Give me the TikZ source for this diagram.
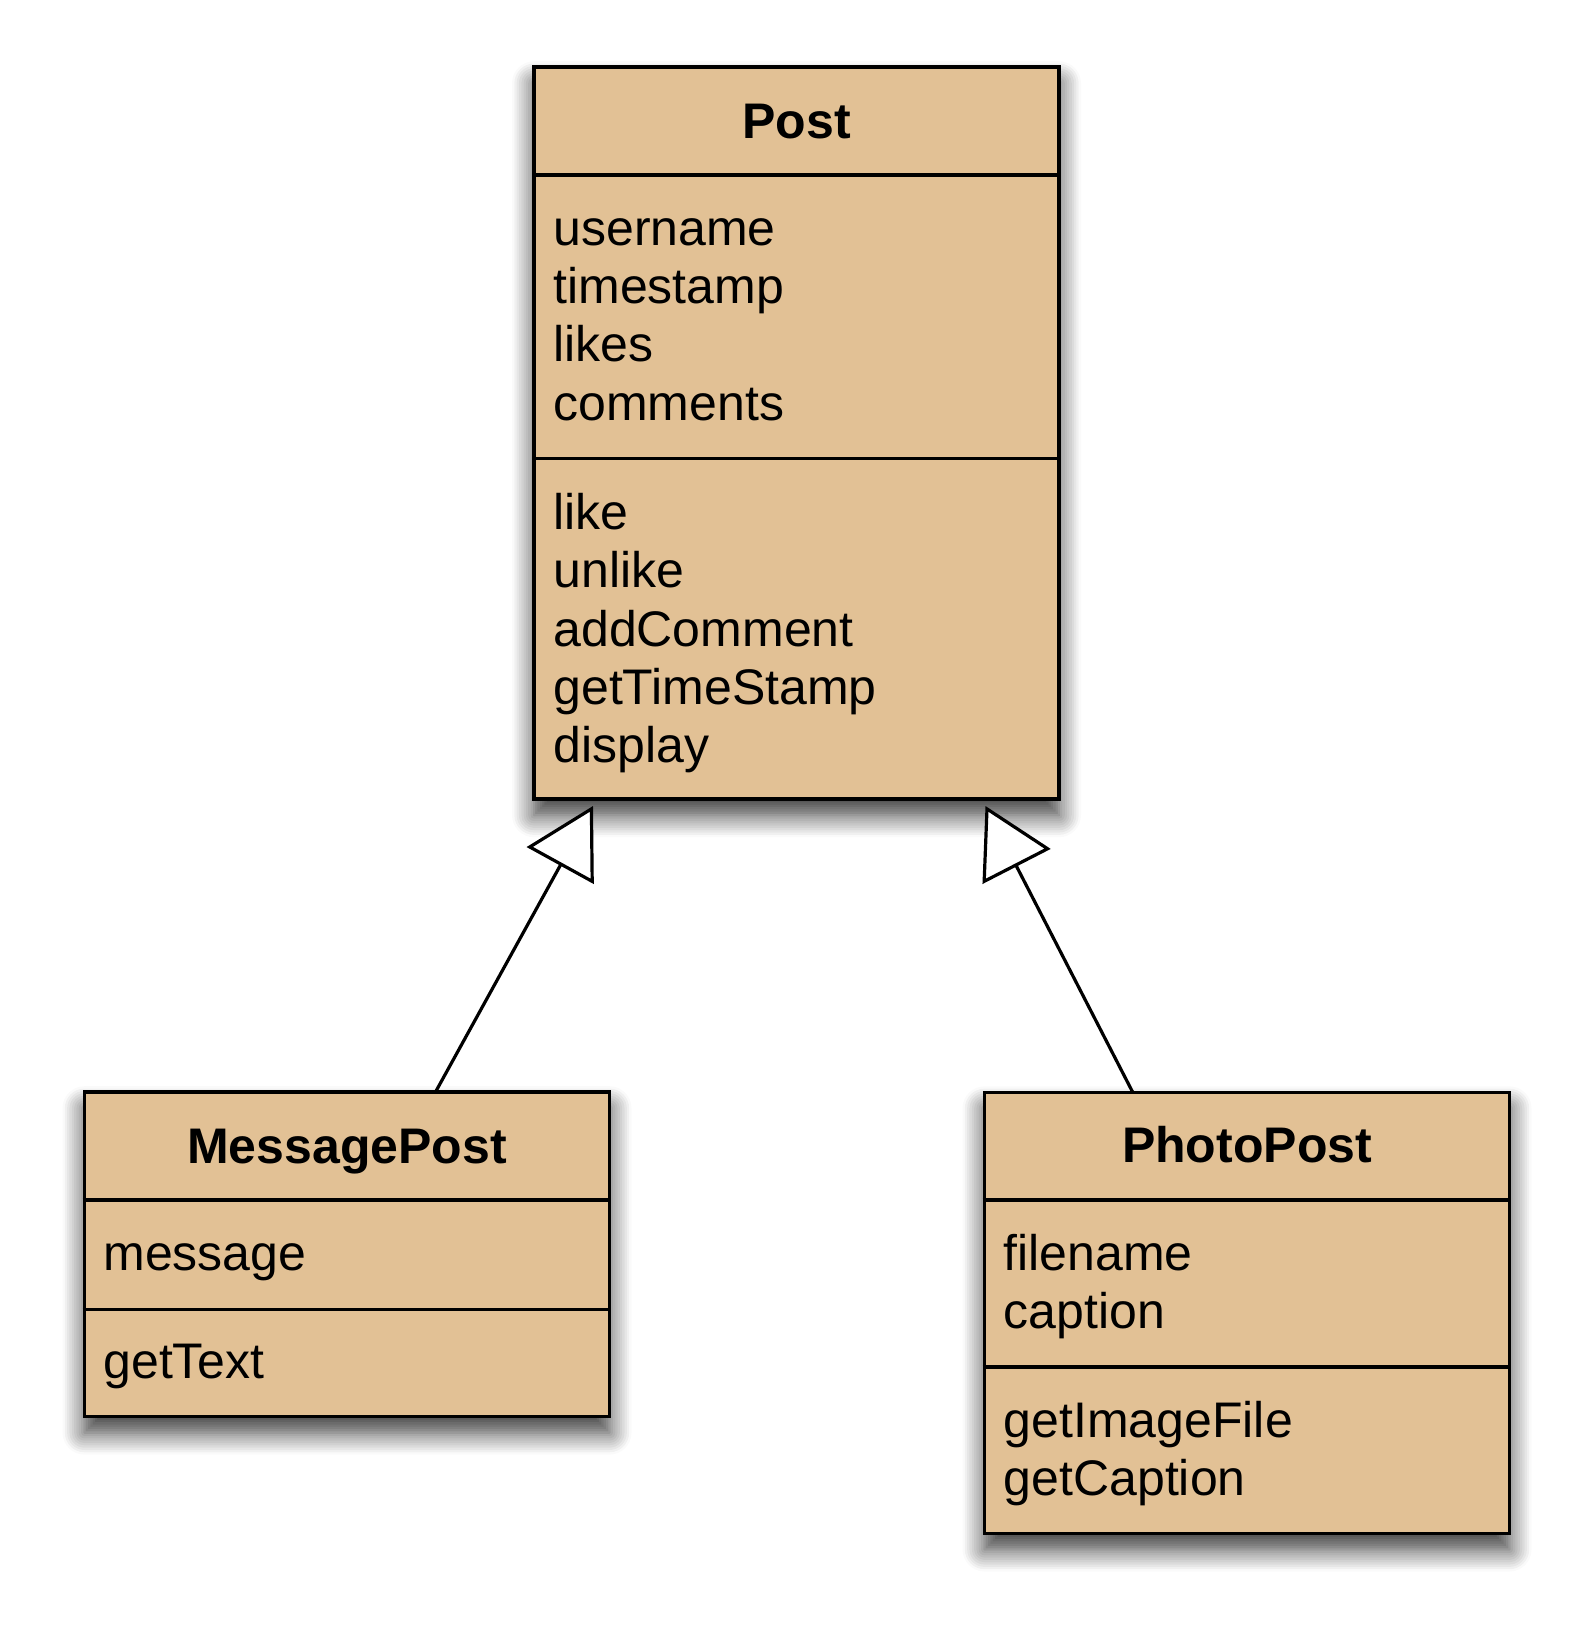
\documentclass[tikz,border=0pt]{standalone}
\usepackage{fontspec}
\setmainfont{Liberation Sans}
\usetikzlibrary{arrows.meta,shadows.blur}
\definecolor{umltan}{RGB}{226,193,149}
\tikzset{
  classbox/.style={draw=black, line width=1.8pt, fill=umltan, inner sep=0pt,
    blur shadow={shadow xshift=0pt, shadow yshift=-8pt, shadow blur radius=11pt, shadow blur steps=10, shadow opacity=80}},
  divider/.style={line width=1.8pt},
  title/.style={anchor=base, inner sep=0pt, font=\fontsize{25pt}{29pt}\selectfont\bfseries},
  member/.style={anchor=base west, inner sep=0pt, font=\fontsize{25pt}{29pt}\selectfont},
  inherit/.style={line width=1.6pt, -{Triangle[open, fill=white, length=34pt, width=38pt]}}
}
\begin{document}
\begin{tikzpicture}[x=0.5pt,y=-0.5pt]
\useasboundingbox (0,0) rectangle (1592,1634);
% ---------- Post ----------
\node[classbox, minimum width=262.5pt, minimum height=366pt] (post) at (796.5,433.2) {};
\draw[divider] (post.west |- 0,175) -- (post.east |- 0,175);
\draw[divider] (post.west |- 0,458.3) -- (post.east |- 0,458.3);
\node[title] (postT) at (796.5,138.3) {Post};
\node[member] (p1) at (553,245) {username};
\node[member] (p2) at (553,303.3) {timestamp};
\node[member] (p3) at (553,361.7) {likes};
\node[member] (p4) at (553,420) {comments};
\node[member] (p5) at (553,529.4) {like};
\node[member] (p6) at (553,587.7) {unlike};
\node[member] (p7) at (553,646) {addComment};
\node[member] (p8) at (553,704.4) {getTimeStamp};
\node[member] (p9) at (553,762.7) {display};
% ---------- MessagePost ----------
\node[classbox, minimum width=262.5pt, minimum height=162.2pt] (mp) at (347,1254.4) {};
\draw[divider] (mp.west |- 0,1200) -- (mp.east |- 0,1200);
\draw[divider] (mp.west |- 0,1309.3) -- (mp.east |- 0,1309.3);
\node[title] (mpT) at (347,1163.3) {MessagePost};
\node[member] (m1) at (103,1270) {message};
\node[member] (m2) at (103,1378.3) {getText};
% ---------- PhotoPost ----------
\node[classbox, minimum width=262.5pt, minimum height=220.6pt] (pp) at (1247,1312.9) {};
\draw[divider] (pp.west |- 0,1200) -- (pp.east |- 0,1200);
\draw[divider] (pp.west |- 0,1366.7) -- (pp.east |- 0,1366.7);
\node[title] (ppT) at (1247,1162.7) {PhotoPost};
\node[member] (f1) at (1003.4,1270) {filename};
\node[member] (f2) at (1003.4,1328.3) {caption};
\node[member] (f3) at (1003.4,1437.7) {getImageFile};
\node[member] (f4) at (1003.4,1495) {getCaption};
% ---------- connectors ----------
\coordinate (mpTop) at (435.5,1092);
\coordinate (ppTop) at (1132.6,1092);
\coordinate (postL) at (593,806);
\coordinate (postR) at (985.5,806);
\draw[inherit] (mpTop) -- (postL);
\draw[inherit] (ppTop) -- (postR);
\end{tikzpicture}
\end{document}
